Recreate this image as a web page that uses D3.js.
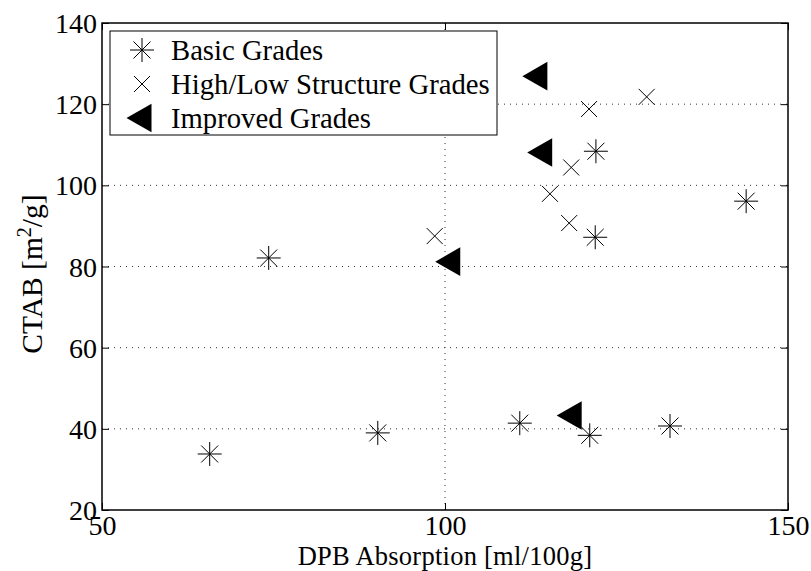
<!DOCTYPE html>
<html><head><meta charset="utf-8">
<script src="https://cdn.jsdelivr.net/npm/d3@7"></script>
<style>
body{margin:0;background:#fff;}
text{font-family:"Liberation Serif","Times New Roman",serif;fill:#000;}
</style></head>
<body><svg id="c" width="811" height="571"></svg>
<script>
const basicX = [65.7, 74.3, 90.2, 110.9, 121.1, 121.9, 122.0, 132.8, 143.9];
const basicY = [33.8, 82.1, 39.0, 41.4, 38.4, 87.2, 108.4, 40.7, 96.1];
const hlX = [121.0, 129.4, 118.4, 115.3, 118.1, 98.5];
const hlY = [118.8, 121.8, 104.4, 97.9, 90.7, 87.5];
const impX = [113.1, 113.8, 100.4, 118.1];
const impY = [126.9, 108.1, 81.2, 43.3];
const xTicks = [50, 100, 150];
const yTicks = [20, 40, 60, 80, 100, 120, 140];
const legendLabels = ["Basic Grades", "High/Low Structure Grades", "Improved Grades"];

const L = 102, R = 788, T = 23, B = 510;
const svg = d3.select("#c");
const x = d3.scaleLinear().domain([50, 150]).range([L, R]);
const y = d3.scaleLinear().domain([20, 140]).range([B, T]);
const FS = 28;

// grid
const g = svg.append("g");
g.selectAll("line.gy").data(yTicks.filter(t => t > 20 && t < 140)).enter().append("line")
  .attr("x1", L).attr("x2", R).attr("y1", d => y(d)).attr("y2", d => y(d))
  .attr("stroke", "#333").attr("stroke-width", 1).attr("stroke-dasharray", "1,5");
g.selectAll("line.gx").data(xTicks.filter(t => t > 50 && t < 150)).enter().append("line")
  .attr("y1", T).attr("y2", B).attr("x1", d => x(d)).attr("x2", d => x(d))
  .attr("stroke", "#333").attr("stroke-width", 1).attr("stroke-dasharray", "1,5");

// axes (ticks inward)
const axB = svg.append("g").attr("transform", `translate(0,${B})`)
  .call(d3.axisBottom(x).tickValues(xTicks).tickSizeInner(-7).tickSizeOuter(0).tickPadding(5));
const axT = svg.append("g").attr("transform", `translate(0,${T})`)
  .call(d3.axisTop(x).tickValues(xTicks).tickSizeInner(-7).tickSizeOuter(0).tickFormat(""));
const axL = svg.append("g").attr("transform", `translate(${L},0)`)
  .call(d3.axisLeft(y).tickValues(yTicks).tickSizeInner(-7).tickSizeOuter(0).tickPadding(5));
const axR = svg.append("g").attr("transform", `translate(${R},0)`)
  .call(d3.axisRight(y).tickValues(yTicks).tickSizeInner(-7).tickSizeOuter(0).tickFormat(""));
[axB, axT, axL, axR].forEach(a => {
  a.select(".domain").remove();
  a.selectAll(".tick line").attr("stroke", "#000").attr("stroke-width", 1);
  a.selectAll("text").style("font-family", '"Liberation Serif",serif').style("font-size", FS + "px").attr("fill", "#000");
});
axB.selectAll("text").attr("dy", "0.71em");
axL.selectAll("text").attr("dy", "0.34em");
svg.append("rect").attr("x", L).attr("y", T).attr("width", R - L).attr("height", B - T)
  .attr("fill", "none").attr("stroke", "#000").attr("stroke-width", 1.5);

// labels
svg.append("text").attr("x", x(100)).attr("y", 565).attr("text-anchor", "middle")
  .style("font-size", "26.5px").style("letter-spacing", "0.25px").text("DPB Absorption [ml/100g]");
const yl = svg.append("text").attr("transform", `translate(42,274) rotate(-90)`)
  .attr("text-anchor", "middle").style("font-size", "29.5px");
yl.append("tspan").text("CTAB [m");
yl.append("tspan").attr("dy", -11).style("font-size", "20px").text("2");
yl.append("tspan").attr("dy", 11).text("/g]");

// marker paths
function asteriskPath(r) {
  const d = r * Math.SQRT1_2;
  return `M${-r},0L${r},0M0,${-r}L0,${r}M${-d},${-d}L${d},${d}M${-d},${d}L${d},${-d}`;
}
function crossPath(r) {
  return `M${-r},${-r}L${r},${r}M${-r},${r}L${r},${-r}`;
}
function triPath(w, h) {
  return `M${-w},0L${w},${-h}L${w},${h}Z`;
}
const basic = basicX.map((v, i) => ({x: v, y: basicY[i]}));
const hl = hlX.map((v, i) => ({x: v, y: hlY[i]}));
const imp = impX.map((v, i) => ({x: v, y: impY[i]}));

svg.append("g").selectAll("path").data(basic).enter().append("path")
  .attr("transform", d => `translate(${x(d.x)},${y(d.y)})`)
  .attr("d", asteriskPath(12)).attr("stroke", "#000").attr("stroke-width", 1).attr("fill", "none");
svg.append("g").selectAll("path").data(hl).enter().append("path")
  .attr("transform", d => `translate(${x(d.x)},${y(d.y)})`)
  .attr("d", crossPath(8)).attr("stroke", "#000").attr("stroke-width", 1).attr("fill", "none");
svg.append("g").selectAll("path").data(imp).enter().append("path")
  .attr("transform", d => `translate(${x(d.x)},${y(d.y)})`)
  .attr("d", triPath(12.5, 14.3)).attr("fill", "#000");

// legend
const lg = svg.append("g");
lg.append("rect").attr("x", 110).attr("y", 31).attr("width", 387).attr("height", 104)
  .attr("fill", "#fff").attr("stroke", "#000").attr("stroke-width", 1);
const ly = [50, 84, 118];
lg.append("path").attr("transform", `translate(142,${ly[0]})`).attr("d", asteriskPath(12))
  .attr("stroke", "#000").attr("fill", "none");
lg.append("path").attr("transform", `translate(142,${ly[1]})`).attr("d", crossPath(8))
  .attr("stroke", "#000").attr("fill", "none");
lg.append("path").attr("transform", `translate(139,${ly[2]})`).attr("d", triPath(12.5, 14.3))
  .attr("fill", "#000");
lg.selectAll("text.l").data(legendLabels).enter().append("text")
  .attr("x", 171).attr("y", (d, i) => ly[i]).attr("dy", "0.34em")
  .style("font-size", "28.7px").text(d => d);
</script></body></html>
